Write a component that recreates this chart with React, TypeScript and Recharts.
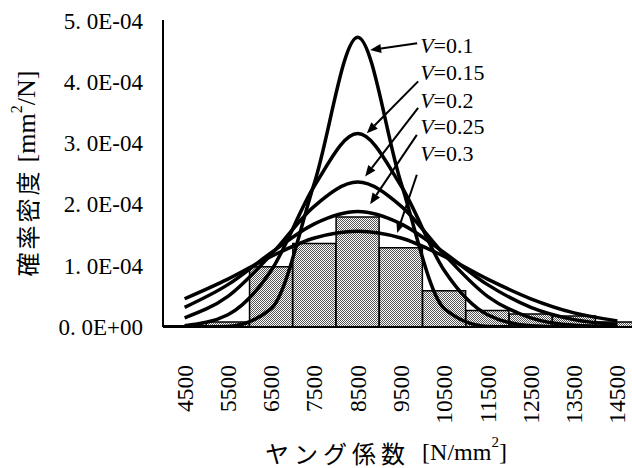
import React from 'react';
import {
  ComposedChart, Bar, Line, XAxis, YAxis, ReferenceLine, ReferenceDot,
} from 'recharts';

// Young's modulus bins (centres), N/mm^2
const categories = ['4500', '5500', '6500', '7500', '8500', '9500', '10500', '11500', '12500', '13500', '14500'];
// histogram (probability density, units of 1E-04 mm^2/N)
const histogram = [0.02, 0.08, 0.98, 1.36, 1.79, 1.29, 0.59, 0.27, 0.21, 0.18, 0.08];
// fitted curves (units of 1E-04)
const v010 = [0.0, 0.01, 0.3, 2.35, 4.72, 2.35, 0.3, 0.01, 0.0, 0.0, 0.0];
const v015 = [0.02, 0.2, 0.92, 2.3, 3.15, 2.3, 0.92, 0.2, 0.02, 0.0, 0.0];
const v020 = [0.15, 0.5, 1.18, 1.97, 2.36, 1.97, 1.18, 0.5, 0.15, 0.03, 0.01];
const v025 = [0.32, 0.69, 1.21, 1.68, 1.88, 1.68, 1.21, 0.69, 0.32, 0.12, 0.04];
const v030 = [0.46, 0.78, 1.15, 1.45, 1.56, 1.45, 1.15, 0.78, 0.46, 0.23, 0.1];

const yTicks = [0, 1, 2, 3, 4, 5];

// annotation labels and arrows (x in N/mm^2, y in 1E-04)
const labelNames = ['0.1', '0.15', '0.2', '0.25', '0.3'];
const labelX = [9942, 9942, 9942, 9942, 9942];
const labelY = [4.59, 4.15, 3.7, 3.27, 2.83];
const arrowFromX = [9873, 9896, 9896, 9866, 9866];
const arrowFromY = [4.62, 4.0, 3.57, 3.13, 2.48];
const arrowToX = [8786, 8710, 8671, 8786, 9410];
const arrowToY = [4.51, 3.155, 2.45, 2.0, 1.53];

const data = categories.map((c, i) => ({
  name: c,
  xv: Number(c),
  hist: histogram[i],
  v010: v010[i],
  v015: v015[i],
  v020: v020[i],
  v025: v025[i],
  v030: v030[i],
}));

const SERIF = '"Liberation Serif", "DejaVu Serif", serif';
const CJKF = '"Noto Sans CJK JP", sans-serif';

const XTick = (props: any) => {
  const { x, y, payload } = props;
  return (
    <text
      x={x}
      y={y}
      transform={`rotate(-90 ${x} ${y})`}
      textAnchor="end"
      dominantBaseline="central"
      fontFamily={SERIF}
      fontSize={23.5}
      fill="#000"
    >
      {payload.value}
    </text>
  );
};

const formatY = (v: number) => (v === 0 ? '0. 0E+00' : `${v}. 0E-04`);

const ArrowShape = (props: any) => {
  const { x1, y1, x2, y2 } = props;
  const dx = x2 - x1;
  const dy = y2 - y1;
  const len = Math.sqrt(dx * dx + dy * dy) || 1;
  const ux = dx / len;
  const uy = dy / len;
  const hl = 11;
  const hw = 4.5;
  const bx = x2 - ux * hl;
  const by = y2 - uy * hl;
  const p1 = `${x2},${y2}`;
  const p2 = `${bx - uy * hw},${by + ux * hw}`;
  const p3 = `${bx + uy * hw},${by - ux * hw}`;
  return (
    <g>
      <line x1={x1} y1={y1} x2={bx} y2={by} stroke="#000" strokeWidth={2} />
      <polygon points={`${p1} ${p2} ${p3}`} fill="#000" />
    </g>
  );
};

const makeLabel = (name: string) => (props: any) => {
  const { cx, cy } = props;
  return (
    <text x={cx} y={cy} dy="0.36em" fontFamily={SERIF} fontSize={22} fill="#000">
      <tspan fontStyle="italic">V</tspan>
      {`=${name}`}
    </text>
  );
};

const YTitle = (props: any) => {
  const vb = props.viewBox;
  const cx = vb.x + 10;
  const cy = vb.y + vb.height / 2;
  return (
    <text
      x={cx}
      y={cy}
      transform={`rotate(-90 ${cx} ${cy})`}
      textAnchor="middle"
      dominantBaseline="central"
      fontFamily={SERIF}
      fontSize={26}
      fill="#000"
    >
      <tspan fontFamily={CJKF} fontSize={24} letterSpacing={3}>確率密度</tspan>
      <tspan dx={6}>[mm</tspan>
      <tspan fontSize={16} dy={-10}>2</tspan>
      <tspan dy={10}>/N]</tspan>
    </text>
  );
};

const XTitle = (props: any) => {
  const vb = props.viewBox;
  const cx = vb.x + vb.width / 2 - 15;
  const cy = vb.y + 125;
  return (
    <text
      x={cx}
      y={cy}
      textAnchor="middle"
      dominantBaseline="central"
      fontFamily={SERIF}
      fontSize={24}
      fill="#000"
    >
      <tspan fontFamily={CJKF} letterSpacing={5}>ヤング係数</tspan>
      <tspan dx={12}>[N/mm</tspan>
      <tspan fontSize={15} dy={-10}>2</tspan>
      <tspan dy={10}>]</tspan>
    </text>
  );
};

export default function App() {
  return (
    <div style={{ position: 'fixed', left: 0, top: 0, width: 632, height: 468, overflow: 'hidden', background: '#fff' }}>
      <div style={{ position: 'absolute', left: 8, top: 8 }}>
        <ComposedChart
          width={640}
          height={460}
          data={data}
          margin={{ top: 12, right: 9, bottom: 0, left: 8 }}
          barCategoryGap={0}
          barGap={0}
        >
          <defs>
            <pattern id="dither" width={2} height={2} patternUnits="userSpaceOnUse">
              <rect x={0} y={0} width={2} height={2} fill="#ffffff" />
              <rect x={0} y={0} width={1} height={1} fill="#555555" />
              <rect x={1} y={1} width={1} height={1} fill="#555555" />
            </pattern>
          </defs>
          <XAxis
            dataKey="name"
            interval={0}
            tick={<XTick />}
            tickSize={0}
            tickMargin={38}
            height={141}
            axisLine={{ stroke: '#000', strokeWidth: 2 }}
            tickLine={false}
            label={<XTitle />}
          />
          <XAxis
            xAxisId="num"
            dataKey="xv"
            type="number"
            domain={[4000, 15000]}
            allowDataOverflow
            orientation="top"
            height={0}
            tick={false}
            tickLine={false}
            axisLine={{ stroke: '#000', strokeWidth: 2 }}
          />
          <YAxis
            domain={[0, 5]}
            ticks={yTicks}
            allowDataOverflow
            width={147}
            tickSize={0}
            tickMargin={20}
            tickFormatter={formatY}
            tick={{ fill: '#000', fontSize: 23, fontFamily: SERIF }}
            axisLine={{ stroke: '#000', strokeWidth: 2 }}
            tickLine={false}
            label={<YTitle />}
          />
          <Bar dataKey="hist" fill="url(#dither)" stroke="#000" strokeWidth={1.5} isAnimationActive={false} />
          <Line type="monotone" dataKey="v030" stroke="#000" strokeWidth={3.5} dot={false} isAnimationActive={false} />
          <Line type="monotone" dataKey="v025" stroke="#000" strokeWidth={3.5} dot={false} isAnimationActive={false} />
          <Line type="monotone" dataKey="v020" stroke="#000" strokeWidth={3.5} dot={false} isAnimationActive={false} />
          <Line type="monotone" dataKey="v015" stroke="#000" strokeWidth={3.5} dot={false} isAnimationActive={false} />
          <Line type="monotone" dataKey="v010" stroke="#000" strokeWidth={3.5} dot={false} isAnimationActive={false} />
          {labelNames.map((n, i) => (
            <ReferenceLine
              key={`a${n}`}
              xAxisId="num"
              segment={[
                { x: arrowFromX[i], y: arrowFromY[i] },
                { x: arrowToX[i], y: arrowToY[i] },
              ]}
              ifOverflow="visible"
              shape={ArrowShape}
            />
          ))}
          {labelNames.map((n, i) => (
            <ReferenceDot
              key={`l${n}`}
              xAxisId="num"
              x={labelX[i]}
              y={labelY[i]}
              r={0}
              ifOverflow="visible"
              shape={makeLabel(n)}
            />
          ))}
        </ComposedChart>
      </div>
    </div>
  );
}
